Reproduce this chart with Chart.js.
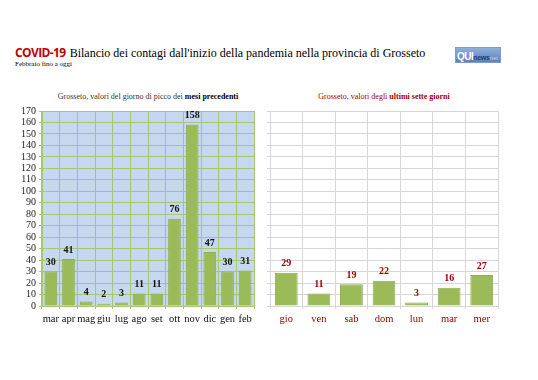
<!DOCTYPE html>
<html>
<head>
<meta charset="utf-8">
<script src="https://cdn.jsdelivr.net/npm/chart.js@4"></script>
<style>
  body { margin: 0; background: #fff; width: 538px; height: 380px; position: relative; overflow: hidden; }
  #titolo { position: absolute; left: 15px; top: 44px; font-family: "Liberation Serif", serif; font-size: 12px; color: #000; white-space: nowrap; }
  #titolo b { font-family: "Open Sans", "Liberation Sans", sans-serif; color: #c00000; font-size: 12px; letter-spacing: -0.6px; margin-right: 1px; }
  #sotto { position: absolute; left: 15px; top: 60px; font-family: "Liberation Serif", serif; font-size: 7px; color: #000; }
  #logo { position: absolute; left: 455px; top: 47px; width: 44px; height: 14px; background: linear-gradient(#8fb0dc, #5b82bd); border: 1px solid #7f9cc8; font-family: "Liberation Sans", sans-serif; color: #fff; line-height: 14px; white-space: nowrap; overflow: hidden; }
  #logo b { font-size: 10px; margin-left: 1px; letter-spacing: -0.5px; }
  #logo span { font-size: 7px; font-weight: bold; color: #1d3e73; letter-spacing: -0.3px; }
  #logo i { font-size: 6px; font-style: normal; color: #c9d8ee; }
  .sub { position: absolute; top: 92px; font-family: "Liberation Serif", serif; font-size: 8px; white-space: nowrap; transform: translateX(-50%); }
  canvas { position: absolute; }
</style>
</head>
<body>
<div id="titolo"><b>COVID-19</b> Bilancio dei contagi dall'inizio della pandemia nella provincia di Grosseto</div>
<div id="sotto">Febbraio fino a oggi</div>
<div id="logo"><b>QUI</b><span>news</span><i>net</i></div>
<div class="sub" style="left:148px;color:#333">Grosseto, valori del giorno di picco dei <b style="color:#000">mesi precedenti</b></div>
<div class="sub" style="left:384px;color:#a00000">Grosseto, valori degli <b>ultimi sette giorni</b></div>
<canvas id="chartMesi" width="265" height="236" style="left:0;top:100px"></canvas>
<canvas id="chartGiorni" width="250" height="236" style="left:266px;top:100px"></canvas>
<script>
// dati
var mesi = ['mar', 'apr', 'mag', 'giu', 'lug', 'ago', 'set', 'ott', 'nov', 'dic', 'gen', 'feb'];
var picchi = [30, 41, 4, 2, 3, 11, 11, 76, 158, 47, 30, 31];
var giorni = ['gio', 'ven', 'sab', 'dom', 'lun', 'mar', 'mer'];
var ultimi = [29, 11, 19, 22, 3, 16, 27];
var yMax = 170;
var yStep = 10;

var serif = "'Liberation Serif', serif";

// sfondo area grafico
var sfondo = {
    id: 'sfondo',
    beforeDraw: function (chart, args, opts) {
        if (!opts.color) return;
        var a = chart.chartArea;
        chart.ctx.save();
        chart.ctx.fillStyle = opts.color;
        chart.ctx.fillRect(a.left, a.top, a.right - a.left, a.bottom - a.top);
        chart.ctx.restore();
    }
};

// etichette sopra le barre
var etichette = {
    id: 'etichette',
    afterDatasetsDraw: function (chart, args, opts) {
        var ctx = chart.ctx;
        var meta = chart.getDatasetMeta(0);
        ctx.save();
        ctx.font = 'bold 10px ' + serif;
        ctx.fillStyle = opts.color;
        ctx.textAlign = 'center';
        ctx.textBaseline = 'bottom';
        meta.data.forEach(function (bar, i) {
            ctx.fillText(chart.data.datasets[0].data[i], bar.x, bar.y - 4);
        });
        ctx.restore();
    }
};

function opzioni(gridColor, bg, tickColor, labelColor, showY, yWidth, padLeft, padRight) {
    return {
        responsive: false,
        animation: false,
        layout: { padding: { left: padLeft, right: padRight, top: 11, bottom: 0 } },
        plugins: {
            legend: { display: false },
            tooltip: { enabled: false },
            sfondo: { color: bg },
            etichette: { color: labelColor }
        },
        scales: {
            x: {
                grid: { color: gridColor, offset: true, tickLength: 3 },
                border: { color: gridColor },
                ticks: { color: tickColor, font: { family: serif, size: 10.5 }, padding: 4, autoSkip: false, maxRotation: 0, minRotation: 0 },
                afterFit: function (s) { s.height = 30; }
            },
            y: {
                min: 0,
                max: yMax,
                grid: { color: gridColor, tickLength: 3 },
                border: { color: gridColor },
                ticks: { display: showY, stepSize: yStep, autoSkip: false, color: '#222', font: { family: serif, size: 10 }, padding: 3 },
                afterFit: function (s) { s.width = yWidth; }
            }
        }
    };
}

new Chart(document.getElementById('chartMesi'), {
    type: 'bar',
    data: {
        labels: mesi,
        datasets: [{
            data: picchi,
            backgroundColor: '#9bbb59',
            borderColor: '#8eac52',
            borderWidth: 1,
            categoryPercentage: 1,
            barPercentage: 0.72
        }]
    },
    options: opzioni('#a8c672', '#c6d7f0', '#111', '#111', true, 42, 0, 11),
    plugins: [sfondo, etichette]
});

new Chart(document.getElementById('chartGiorni'), {
    type: 'bar',
    data: {
        labels: giorni,
        datasets: [{
            data: ultimi,
            backgroundColor: '#9bbb59',
            borderColor: '#8eac52',
            borderWidth: 1,
            categoryPercentage: 1,
            barPercentage: 0.7
        }]
    },
    options: opzioni('#d6d6d6', null, '#a00000', '#a00000', false, 0, 4, 18),
    plugins: [sfondo, etichette]
});
</script>
</body>
</html>
